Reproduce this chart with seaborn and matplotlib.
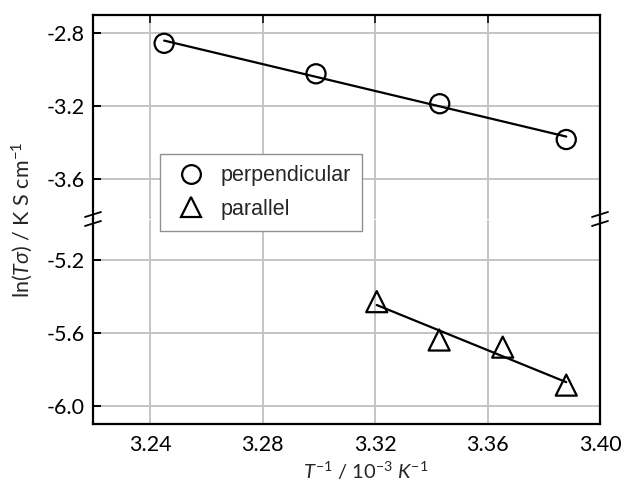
import numpy as np
import matplotlib
matplotlib.use("Agg")
import matplotlib.pyplot as plt
from matplotlib.lines import Line2D
import seaborn as sns

# data
perp_x = [3.245, 3.299, 3.343, 3.388]
perp_y = [-2.855, -3.022, -3.186, -3.382]
para_x = [3.3206, 3.3428, 3.3654, 3.388]
para_y = [-5.430, -5.640, -5.679, -5.887]
x_ticks = [3.24, 3.28, 3.32, 3.36, 3.40]
top_yticks = [-2.8, -3.2, -3.6]
bot_yticks = [-5.2, -5.6, -6.0]
labels = ["perpendicular", "parallel"]

sns.set_theme(style="white")
plt.rcParams['font.family'] = ['Lato', 'DejaVu Sans']
plt.rcParams['mathtext.fontset'] = 'custom'
plt.rcParams['mathtext.rm'] = 'Lato'
plt.rcParams['mathtext.it'] = 'Lato:italic'
plt.rcParams['mathtext.fallback'] = 'stixsans'

W, H = 625, 491
fig = plt.figure(figsize=(W / 100, H / 100), dpi=100)
L, R, T, B, BR = 93, 600, 15, 424, 219.5
ax_top = fig.add_axes([L / W, 1 - BR / H, (R - L) / W, (BR - T) / H])
ax_bot = fig.add_axes([L / W, 1 - B / H, (R - L) / W, (B - BR) / H], sharex=ax_top)

FS = 15.5
ms_c = 190
ms_t = 230
for ax in (ax_top, ax_bot):
    ax.grid(True, color='#c4c4c4', linewidth=1.4)
    ax.set_axisbelow(True)
    for s in ax.spines.values():
        s.set_color('black')
        s.set_linewidth(1.6)

sns.regplot(x=perp_x, y=perp_y, ax=ax_top, ci=None, scatter=False, truncate=True,
            color='black', line_kws=dict(linewidth=1.6))
sns.scatterplot(x=perp_x, y=perp_y, ax=ax_top, marker='o', s=ms_c,
                facecolor='none', edgecolor='black', linewidth=1.6, zorder=5)
sns.regplot(x=para_x, y=para_y, ax=ax_bot, ci=None, scatter=False, truncate=True,
            color='black', line_kws=dict(linewidth=1.6))
sns.scatterplot(x=para_x, y=para_y, ax=ax_bot, marker='^', s=ms_t,
                facecolor='none', edgecolor='black', linewidth=1.6, zorder=5)

ax_top.set_xlim(3.2197, 3.40)
ax_top.set_ylim(-3.82, -2.70)
ax_bot.set_ylim(-6.10, -4.98)
ax_top.set_yticks(top_yticks)
ax_bot.set_yticks(bot_yticks)
ax_bot.set_xticks(x_ticks)
ax_top.set_yticklabels([f"{v:.1f}" for v in top_yticks])
ax_bot.set_yticklabels([f"{v:.1f}" for v in bot_yticks])
ax_bot.set_xticklabels([f"{v:.2f}" for v in x_ticks])

ax_top.spines['bottom'].set_visible(False)
ax_bot.spines['top'].set_visible(False)
ax_top.tick_params(axis='x', which='both', bottom=False, labelbottom=False,
                   top=True, direction='in', length=6, width=1.4)
ax_bot.tick_params(axis='x', direction='in', length=6, width=1.4, top=False,
                   labelsize=FS, pad=8, colors='black')
for ax in (ax_top, ax_bot):
    ax.tick_params(axis='y', direction='in', length=6, width=1.4, left=True,
                   right=False, labelsize=FS, pad=6, colors='black')
ax_top.set_ylabel('')
ax_bot.set_ylabel('')
ax_bot.set_xlabel('')
fig.text(366 / W, 1 - 471 / H, r'$T^{-1}$ / 10$^{-3}$ $K^{-1}$', fontsize=14.5,
         ha='center', va='center')
fig.text(22 / W, 1 - 220 / H, r'ln($T\sigma$) / K S cm$^{-1}$', rotation=90,
         fontsize=FS, ha='center', va='center')

# break marks
for xc in (L, R):
    for yc in (214.5, 223.5):
        fig.add_artist(Line2D([(xc - 8) / W, (xc + 8) / W],
                              [1 - (yc + 2.5) / H, 1 - (yc - 2.5) / H],
                              color='black', linewidth=1.3))

handles = [Line2D([], [], linestyle='none', marker='o', markersize=13.5,
                  markerfacecolor='none', markeredgecolor='black', markeredgewidth=1.6),
           Line2D([], [], linestyle='none', marker='^', markersize=15,
                  markerfacecolor='none', markeredgecolor='black', markeredgewidth=1.6)]
leg = fig.legend(handles, labels, loc='upper left',
                 bbox_to_anchor=(160 / W, 1 - 154 / H),
                 prop={'family': 'Liberation Sans', 'size': FS},
                 frameon=True, fancybox=False, framealpha=1, edgecolor='#909090',
                 borderpad=0.52, labelspacing=0.58, handletextpad=0.5,
                 borderaxespad=0, handlelength=1.8)
leg.get_frame().set_linewidth(1.0)

fig.savefig('out.png', dpi=100)
